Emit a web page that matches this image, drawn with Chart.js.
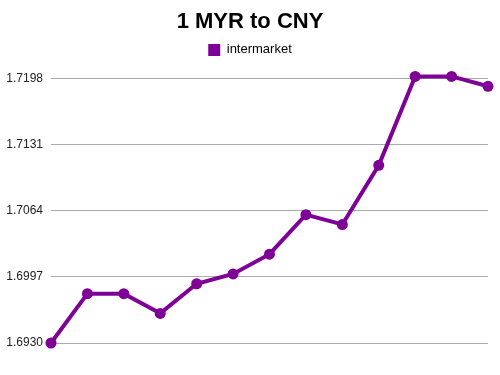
<!DOCTYPE html>
<html>
<head>
<meta charset="utf-8">
<script src="https://cdn.jsdelivr.net/npm/chart.js@4/dist/chart.umd.min.js"></script>
<style>
  html, body { margin: 0; padding: 0; background: #fff; }
  #wrap { width: 500px; height: 375px; }
</style>
</head>
<body>
<div id="wrap"><canvas id="rateChart" width="500" height="375"></canvas></div>
<script>
// data
const labels = ['1', '2', '3', '4', '5', '6', '7', '8', '9', '10', '11', '12', '13'];
const rates = [1.6930, 1.6980, 1.6980, 1.6960, 1.6990, 1.7000, 1.7020, 1.7060, 1.7050, 1.7110, 1.7200, 1.7200, 1.7190];
const yTicks = [1.6930, 1.6997, 1.7064, 1.7131, 1.7198];

const purple = '#7f0097';

// push the plot area down a little below the legend
const legendGap = {
    id: 'legendGap',
    beforeInit(chart) {
        const origFit = chart.legend.fit;
        chart.legend.fit = function () {
            origFit.bind(chart.legend)();
            this.height += 12;
        };
    }
};

const ctx = document.getElementById('rateChart').getContext('2d');
new Chart(ctx, {
    type: 'line',
    data: {
        labels: labels,
        datasets: [{
            label: 'intermarket',
            data: rates,
            borderColor: purple,
            backgroundColor: purple,
            borderWidth: 4,
            pointRadius: 5.5,
            pointBorderWidth: 0,
            pointBackgroundColor: purple,
            tension: 0,
            fill: false,
            clip: false
        }]
    },
    options: {
        responsive: false,
        animation: false,
        layout: { padding: { left: 0, right: 0, top: 0, bottom: 32 } },
        plugins: {
            title: {
                display: true,
                text: '1 MYR to CNY',
                color: '#000',
                font: { family: 'Liberation Sans, Arial, sans-serif', size: 22, weight: 'bold' },
                padding: { top: 9, bottom: 0 }
            },
            legend: {
                labels: {
                    boxWidth: 12,
                    boxHeight: 12,
                    padding: 8,
                    color: '#222',
                    font: { family: 'Liberation Sans, Arial, sans-serif', size: 13 },
                    generateLabels(chart) {
                        return chart.data.datasets.map((ds, i) => ({
                            text: ds.label,
                            fillStyle: ds.backgroundColor,
                            strokeStyle: ds.backgroundColor,
                            lineWidth: 0,
                            hidden: false,
                            datasetIndex: i
                        }));
                    }
                }
            },
            tooltip: { enabled: false }
        },
        scales: {
            x: {
                display: false,
                offset: false
            },
            y: {
                min: 1.6930,
                max: 1.7198,
                afterBuildTicks(scale) {
                    scale.ticks = yTicks.map(v => ({ value: v }));
                },
                afterFit(scale) {
                    scale.width = 51;
                },
                border: { display: false },
                grid: { color: '#aaaaaa', lineWidth: 1, drawTicks: false },
                ticks: {
                    padding: 8,
                    color: '#222',
                    font: { family: 'Liberation Sans, Arial, sans-serif', size: 12 },
                    callback: v => v.toFixed(4)
                }
            },
            // empty right-hand axis, only keeps a margin on the right
            yRight: {
                position: 'right',
                display: true,
                min: 1.6930,
                max: 1.7198,
                afterFit(scale) {
                    scale.width = 12;
                },
                border: { display: false },
                grid: { display: false },
                ticks: { display: false }
            }
        }
    },
    plugins: [legendGap]
});
</script>
</body>
</html>
